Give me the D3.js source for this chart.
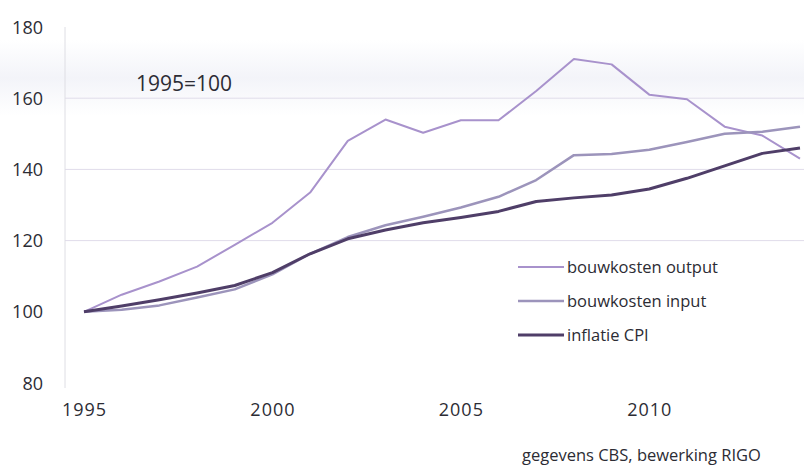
<!DOCTYPE html>
<html>
<head>
<meta charset="utf-8">
<script src="https://cdn.jsdelivr.net/npm/d3@7"></script>
<style>
	body { margin: 0; background: #ffffff; }
	text { font-family: "Open Sans", "DejaVu Sans", sans-serif; fill: #2c2c34; }
</style>
</head>
<body>
<div id="vis"></div>
<script>
// yearly index values, 1995 = 100
var years = [1995, 1996, 1997, 1998, 1999, 2000, 2001, 2002, 2003, 2004,
	2005, 2006, 2007, 2008, 2009, 2010, 2011, 2012, 2013, 2014];
var outputValues = [100, 104.8, 108.5, 112.7, 118.8, 125, 133.5, 148, 154, 150.3,
	153.8, 153.8, 162, 171, 169.5, 161, 159.7, 152, 149.5, 143];
var inputValues = [100, 100.6, 101.8, 104, 106.3, 110.5, 116.3, 121, 124.3, 126.7,
	129.3, 132.3, 137, 144, 144.3, 145.5, 147.7, 150, 150.6, 152];
var cpiValues = [100, 101.6, 103.4, 105.3, 107.4, 111, 116.3, 120.5, 123, 125,
	126.5, 128.2, 131, 132, 132.8, 134.5, 137.5, 141, 144.5, 146];
var yTicks = [80, 100, 120, 140, 160, 180];
var xTicks = [1995, 2000, 2005, 2010];
var seriesNames = ["bouwkosten output", "bouwkosten input", "inflatie CPI"];

var width = 804;
var height = 468;

var svg = d3.select("#vis")
	.append("svg")
	.attr("width", width)
	.attr("height", height);

// faint scanner band behind the top of the chart
var defs = svg.append("defs");
var grad = defs.append("linearGradient")
	.attr("id", "band")
	.attr("x1", 0).attr("y1", 0).attr("x2", 0).attr("y2", 1);
grad.append("stop").attr("offset", "0%").attr("stop-color", "#ffffff");
grad.append("stop").attr("offset", "50%").attr("stop-color", "#f3f4f9");
grad.append("stop").attr("offset", "100%").attr("stop-color", "#ffffff");
svg.append("rect")
	.attr("x", 0).attr("y", 40)
	.attr("width", width).attr("height", 76)
	.attr("fill", "url(#band)");

var xScale = d3.scaleLinear()
	.domain([1995, 2014])
	.range([84, 800]);

var yScale = d3.scaleLinear()
	.domain([80, 180])
	.range([383, 27]);

// gridlines (only the middle ones survive the scan)
svg.append("g")
	.selectAll("line")
	.data([120, 140, 160])
	.enter().append("line")
	.attr("x1", 65)
	.attr("x2", width)
	.attr("y1", function(d) { return yScale(d); })
	.attr("y2", function(d) { return yScale(d); })
	.attr("stroke", "#e0dcea")
	.attr("stroke-width", 1);

// vertical axis line
svg.append("line")
	.attr("x1", 65).attr("x2", 65)
	.attr("y1", yScale(180)).attr("y2", yScale(80) + 5)
	.attr("stroke", "#dedee4")
	.attr("stroke-width", 1);

var yAxis = d3.axisLeft(yScale)
	.tickValues(yTicks)
	.tickSize(0)
	.tickPadding(0);

var yAxisLabel = svg.append("g")
	.attr("transform", "translate(43,0)")
	.call(yAxis);
yAxisLabel.select(".domain").remove();
yAxisLabel.selectAll("text")
	.style("font-size", "18px")
	.attr("dy", "0.34em")
	.style("font-family", "\"Open Sans\", sans-serif")
	.attr("fill", "#2c2c34");

var xAxis = d3.axisBottom(xScale)
	.tickValues(xTicks)
	.tickFormat(d3.format("d"))
	.tickSize(0)
	.tickPadding(0);

var xAxisLabel = svg.append("g")
	.attr("transform", "translate(0,403)")
	.call(xAxis);
xAxisLabel.select(".domain").remove();
xAxisLabel.selectAll("text")
	.style("font-size", "18px")
	.style("letter-spacing", "1px")
	.style("font-family", "\"Open Sans\", sans-serif")
	.attr("fill", "#2c2c34");

var series = [
	{ name: seriesNames[0], values: outputValues, color: "#a892cc", width: 2 },
	{ name: seriesNames[1], values: inputValues, color: "#9c94bb", width: 2.5 },
	{ name: seriesNames[2], values: cpiValues, color: "#4f3e68", width: 3 }
];

var line = d3.line()
	.x(function(d, i) { return xScale(years[i]); })
	.y(function(d) { return yScale(d); });

svg.append("g")
	.selectAll("path")
	.data(series)
	.enter().append("path")
	.attr("d", function(d) { return line(d.values); })
	.attr("fill", "none")
	.attr("stroke", function(d) { return d.color; })
	.attr("stroke-width", function(d) { return d.width; })
	.attr("stroke-linejoin", "round");

// legend
var legend = svg.append("g")
	.selectAll("g")
	.data(series)
	.enter().append("g")
	.attr("transform", function(d, i) { return "translate(518," + (267 + i * 34) + ")"; });

legend.append("line")
	.attr("x1", 0).attr("x2", 46)
	.attr("y1", 0).attr("y2", 0)
	.attr("stroke", function(d) { return d.color; })
	.attr("stroke-width", function(d) { return d.width; });

legend.append("text")
	.attr("x", 49)
	.attr("y", 6)
	.style("font-size", "16.5px")
	.text(function(d) { return d.name; });

svg.append("text")
	.attr("x", 136)
	.attr("y", 91)
	.style("font-size", "21px")
	.text("1995=100");

svg.append("text")
	.attr("x", 522)
	.attr("y", 461)
	.style("font-size", "16.5px")
	.text("gegevens CBS, bewerking RIGO");
</script>
</body>
</html>
